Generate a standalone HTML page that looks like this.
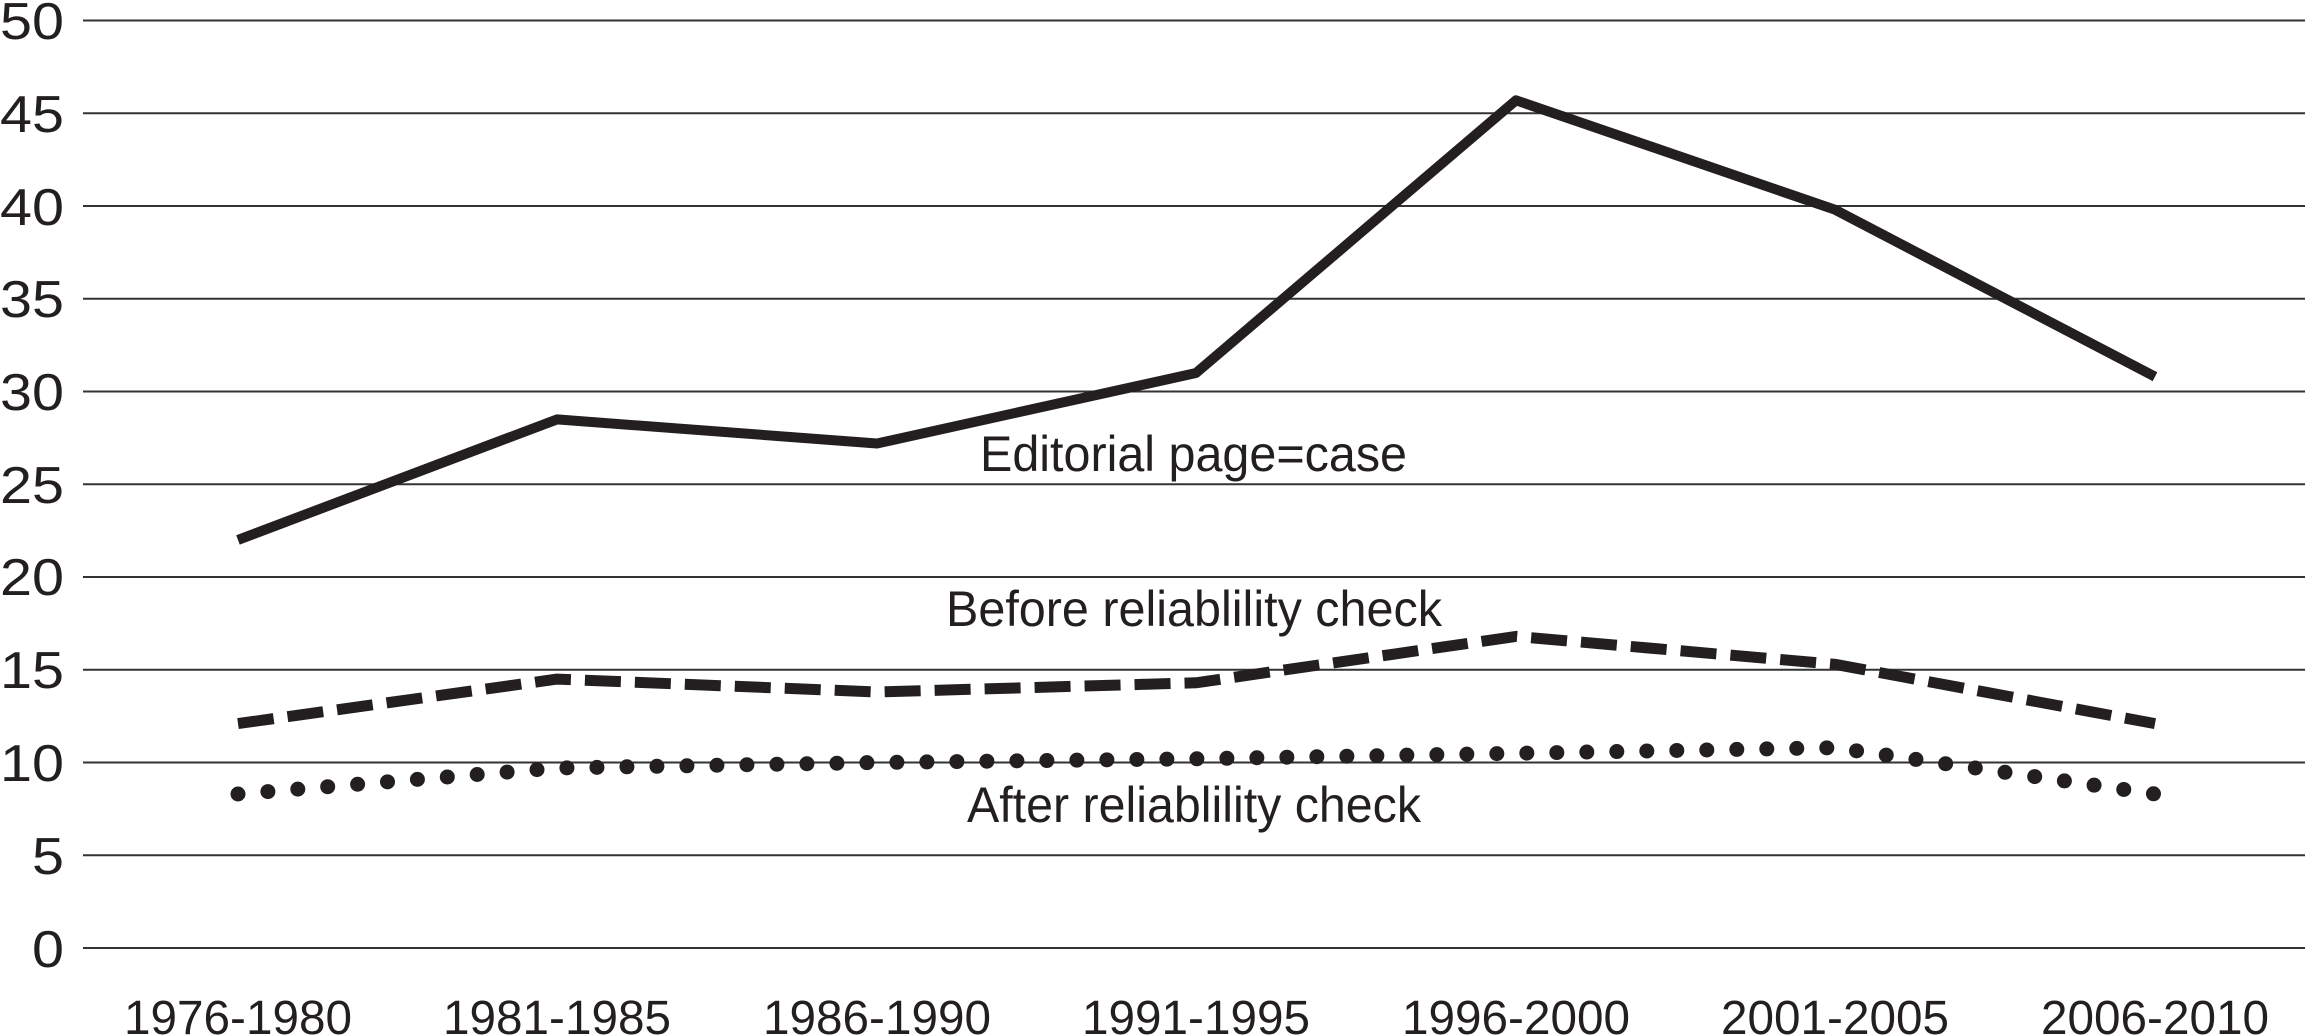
<!DOCTYPE html>
<html><head><meta charset="utf-8"><style>html,body{margin:0;padding:0;background:#fff}svg{display:block}</style></head>
<body>
<svg width="2305" height="1036" viewBox="0 0 2305 1036" xmlns="http://www.w3.org/2000/svg" font-family="Liberation Sans, sans-serif" fill="#231f20">
<g stroke="#333" stroke-width="2">
<line x1="83" x2="2305" y1="20.5" y2="20.5"/>
<line x1="83" x2="2305" y1="113.3" y2="113.3"/>
<line x1="83" x2="2305" y1="206" y2="206"/>
<line x1="83" x2="2305" y1="298.8" y2="298.8"/>
<line x1="83" x2="2305" y1="391.5" y2="391.5"/>
<line x1="83" x2="2305" y1="484.3" y2="484.3"/>
<line x1="83" x2="2305" y1="577" y2="577"/>
<line x1="83" x2="2305" y1="669.8" y2="669.8"/>
<line x1="83" x2="2305" y1="762.5" y2="762.5"/>
<line x1="83" x2="2305" y1="855.3" y2="855.3"/>
<line x1="83" x2="2305" y1="948" y2="948"/>
</g>
<g font-size="52" text-anchor="end">
<text x="64" y="39" textLength="64" lengthAdjust="spacingAndGlyphs">50</text>
<text x="64" y="132" textLength="64" lengthAdjust="spacingAndGlyphs">45</text>
<text x="64" y="225" textLength="64" lengthAdjust="spacingAndGlyphs">40</text>
<text x="64" y="317" textLength="64" lengthAdjust="spacingAndGlyphs">35</text>
<text x="64" y="410" textLength="64" lengthAdjust="spacingAndGlyphs">30</text>
<text x="64" y="503" textLength="64" lengthAdjust="spacingAndGlyphs">25</text>
<text x="64" y="595" textLength="64" lengthAdjust="spacingAndGlyphs">20</text>
<text x="64" y="688" textLength="64" lengthAdjust="spacingAndGlyphs">15</text>
<text x="64" y="781" textLength="64" lengthAdjust="spacingAndGlyphs">10</text>
<text x="64" y="874" textLength="32" lengthAdjust="spacingAndGlyphs">5</text>
<text x="64" y="967" textLength="32" lengthAdjust="spacingAndGlyphs">0</text>
</g>
<g font-size="48" text-anchor="middle">
<text x="238" y="1034" textLength="228" lengthAdjust="spacingAndGlyphs">1976-1980</text>
<text x="557" y="1034" textLength="228" lengthAdjust="spacingAndGlyphs">1981-1985</text>
<text x="877" y="1034" textLength="228" lengthAdjust="spacingAndGlyphs">1986-1990</text>
<text x="1196" y="1034" textLength="228" lengthAdjust="spacingAndGlyphs">1991-1995</text>
<text x="1516" y="1034" textLength="228" lengthAdjust="spacingAndGlyphs">1996-2000</text>
<text x="1835" y="1034" textLength="228" lengthAdjust="spacingAndGlyphs">2001-2005</text>
<text x="2155" y="1034" textLength="228" lengthAdjust="spacingAndGlyphs">2006-2010</text>
</g>
<g fill="none" stroke="#231f20" stroke-linejoin="round">
<polyline stroke-width="10" points="238,539.9 557,419.4 877,443.5 1196,373 1516,100.3 1835,209.7 2155,376.7"/>
<polyline stroke-width="11" stroke-dasharray="36 14" points="238,723.6 557,679.1 877,692 1196,682.8 1516,636.4 1835,664.3 2155,723.6"/>
<polyline stroke-width="15" stroke-linecap="round" stroke-dasharray="0 30" points="238,794 557,768 877,762.5 1196,758.8 1516,753.3 1835,747.7 2155,794"/>
</g>
<g font-size="50">
<text x="980" y="471" textLength="427" lengthAdjust="spacingAndGlyphs">Editorial page=case</text>
<text x="946" y="626" textLength="496" lengthAdjust="spacingAndGlyphs">Before reliablility check</text>
<text x="967" y="822" textLength="454" lengthAdjust="spacingAndGlyphs">After reliablility check</text>
</g>
</svg>
</body></html>
